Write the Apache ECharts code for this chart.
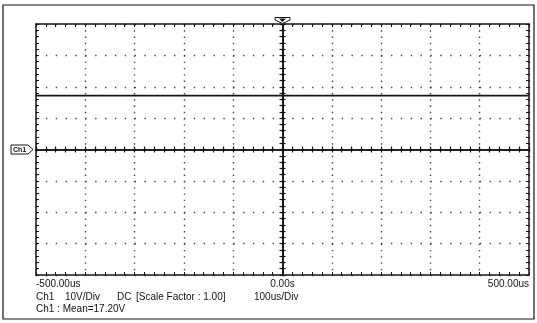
<!DOCTYPE html>
<html>
<head>
<meta charset="utf-8">
<script src="https://cdn.jsdelivr.net/npm/echarts@6/dist/echarts.min.js"></script>
<style>
html,body{margin:0;padding:0;background:#fff;}
#c{width:537px;height:323px;}
</style>
</head>
<body>
<div id="c"></div>
<script>
// ---- data ----
var traceTimes = [-500, -400, -300, -200, -100, 0, 100, 200, 300, 400, 500]; // us
var traceVolts = [17.2, 17.2, 17.2, 17.2, 17.2, 17.2, 17.2, 17.2, 17.2, 17.2, 17.2]; // V
var xLabelValues = [-500, 0, 500];
var xLabelTexts = ['-500.00us', '0.00s', '500.00us'];
var xMin = -500, xMax = 500, xInterval = 100;
var yMin = -40, yMax = 40, yInterval = 10;
var infoLine1 = ['Ch1', '10V/Div', 'DC', '[Scale Factor : 1.00]', '100us/Div'];
var infoLine2 = 'Ch1 : Mean=17.20V';
var channelName = 'Ch1';

var FONT = '"Liberation Sans", Arial, sans-serif';
var INK = '#141414';

var chart = echarts.init(document.getElementById('c'), null, {renderer: 'canvas'});

var gridRect = {left: 36, top: 24, width: 493, height: 251};
var minorH = gridRect.width / 50;   // horizontal minor spacing
var minorV = gridRect.height / 40;  // vertical minor spacing

function xLabelFmt(v) {
  var i = xLabelValues.indexOf(Math.round(v));
  return i >= 0 ? xLabelTexts[i] : '';
}

function borderX(pos, gi, showLabel) {
  return {
    type: 'value', gridIndex: gi, position: pos, min: xMin, max: xMax, interval: xInterval,
    axisLine: {show: true, onZero: false, lineStyle: {color: INK, width: 1.5}},
    axisTick: {show: true, inside: true, length: 3, lineStyle: {color: INK, width: 1}},
    minorTick: {show: true, splitNumber: 5, length: 3, lineStyle: {color: INK, width: 1}},
    splitLine: {show: pos === 'bottom', lineStyle: {color: '#444', width: 1.4, type: [1.4, minorV - 1.4]}},
    axisLabel: showLabel ? {
      show: true, formatter: xLabelFmt, color: INK, fontSize: 10, fontFamily: FONT, margin: 4,
      alignMinLabel: 'left', alignMaxLabel: 'right', showMinLabel: true, showMaxLabel: true
    } : {show: false}
  };
}
function borderY(pos, gi) {
  return {
    type: 'value', gridIndex: gi, position: pos, min: yMin, max: yMax, interval: yInterval,
    axisLine: {show: true, onZero: false, lineStyle: {color: INK, width: 1.5}},
    axisTick: {show: true, inside: true, length: 3, lineStyle: {color: INK, width: 1}},
    minorTick: {show: true, splitNumber: 5, length: 3, lineStyle: {color: INK, width: 1}},
    splitLine: {show: pos === 'left', lineStyle: {color: '#444', width: 1.4, type: [1.4, minorH - 1.4]}},
    axisLabel: {show: false}
  };
}
function centerX(gi, inside) {
  return {
    type: 'value', gridIndex: gi, position: 'bottom', min: xMin, max: xMax, interval: xInterval,
    axisLine: {show: true, onZero: true, lineStyle: {color: INK, width: 1.6}},
    axisTick: {show: true, inside: inside, length: 3, lineStyle: {color: INK, width: 1.2}},
    minorTick: {show: true, splitNumber: 5, length: 3, lineStyle: {color: INK, width: 1.2}},
    splitLine: {show: false}, axisLabel: {show: false}
  };
}
function centerY(gi, inside) {
  return {
    type: 'value', gridIndex: gi, position: 'left', min: yMin, max: yMax, interval: yInterval,
    axisLine: {show: true, onZero: true, lineStyle: {color: INK, width: 1.6}},
    axisTick: {show: true, inside: inside, length: 3, lineStyle: {color: INK, width: 1.2}},
    minorTick: {show: true, splitNumber: 5, length: 3, lineStyle: {color: INK, width: 1.2}},
    splitLine: {show: false}, axisLabel: {show: false}
  };
}

var traceData = traceTimes.map(function (t, i) { return [t, traceVolts[i]]; });

var option = {
  animation: false,
  backgroundColor: '#fff',
  grid: [
    Object.assign({}, gridRect),
    Object.assign({}, gridRect),
    Object.assign({}, gridRect)
  ],
  xAxis: [
    borderX('bottom', 0, true),
    borderX('top', 0, false),
    centerX(1, false),
    centerX(2, true)
  ],
  yAxis: [
    borderY('left', 0),
    borderY('right', 0),
    centerY(1, false),
    centerY(2, true)
  ],
  series: [{
    type: 'line', xAxisIndex: 0, yAxisIndex: 0, data: traceData,
    symbol: 'none', lineStyle: {color: INK, width: 1.7}, z: 5
  }],
  graphic: [
    {type: 'rect', shape: {x: 3, y: 5, width: 531, height: 314},
     style: {fill: 'none', stroke: INK, lineWidth: 1.2}, silent: true}
  ]
};
chart.setOption(option);

// markers and info text placed relative to axis positions
var p0 = chart.convertToPixel({xAxisIndex: 0, yAxisIndex: 0}, [0, 0]);
var cx = p0[0], cy = p0[1];
var T = gridRect.top;
var B = T + gridRect.height;
var gfx = option.graphic.slice();
// channel marker (pentagon pointing right)
gfx.push({type: 'polygon', shape: {points: [[11, cy - 4.5], [28, cy - 4.5], [33, cy], [28, cy + 4.5], [11, cy + 4.5]]},
  style: {fill: '#fff', stroke: INK, lineWidth: 1}, z: 10});
gfx.push({type: 'text', x: 19.5, y: cy + 0.5, style: {text: channelName, fontSize: 7, fontWeight: 'bold',
  fontFamily: FONT, fill: INK, align: 'center', verticalAlign: 'middle'}, z: 11});
// trigger marker at top
gfx.push({type: 'polygon', shape: {points: [[cx - 7.5, T - 6.5], [cx + 7.5, T - 6.5], [cx + 7.5, T - 4], [cx, T - 0.5], [cx - 7.5, T - 4]]},
  style: {fill: '#fff', stroke: INK, lineWidth: 1}, z: 10});
gfx.push({type: 'polygon', shape: {points: [[cx - 3.5, T - 5.5], [cx + 3.5, T - 5.5], [cx, T - 2]]},
  style: {fill: INK}, z: 11});
// info lines
var infoX = [36, 65, 117, 136, 254];
for (var i = 0; i < infoLine1.length; i++) {
  gfx.push({type: 'text', x: infoX[i], y: B + 22, style: {text: infoLine1[i], fontSize: 10, fontFamily: FONT,
    fill: INK, align: 'left', verticalAlign: 'middle'}});
}
gfx.push({type: 'text', x: 36, y: B + 34, style: {text: infoLine2, fontSize: 10, fontFamily: FONT,
  fill: INK, align: 'left', verticalAlign: 'middle'}});
chart.setOption({graphic: gfx});
</script>
</body>
</html>
